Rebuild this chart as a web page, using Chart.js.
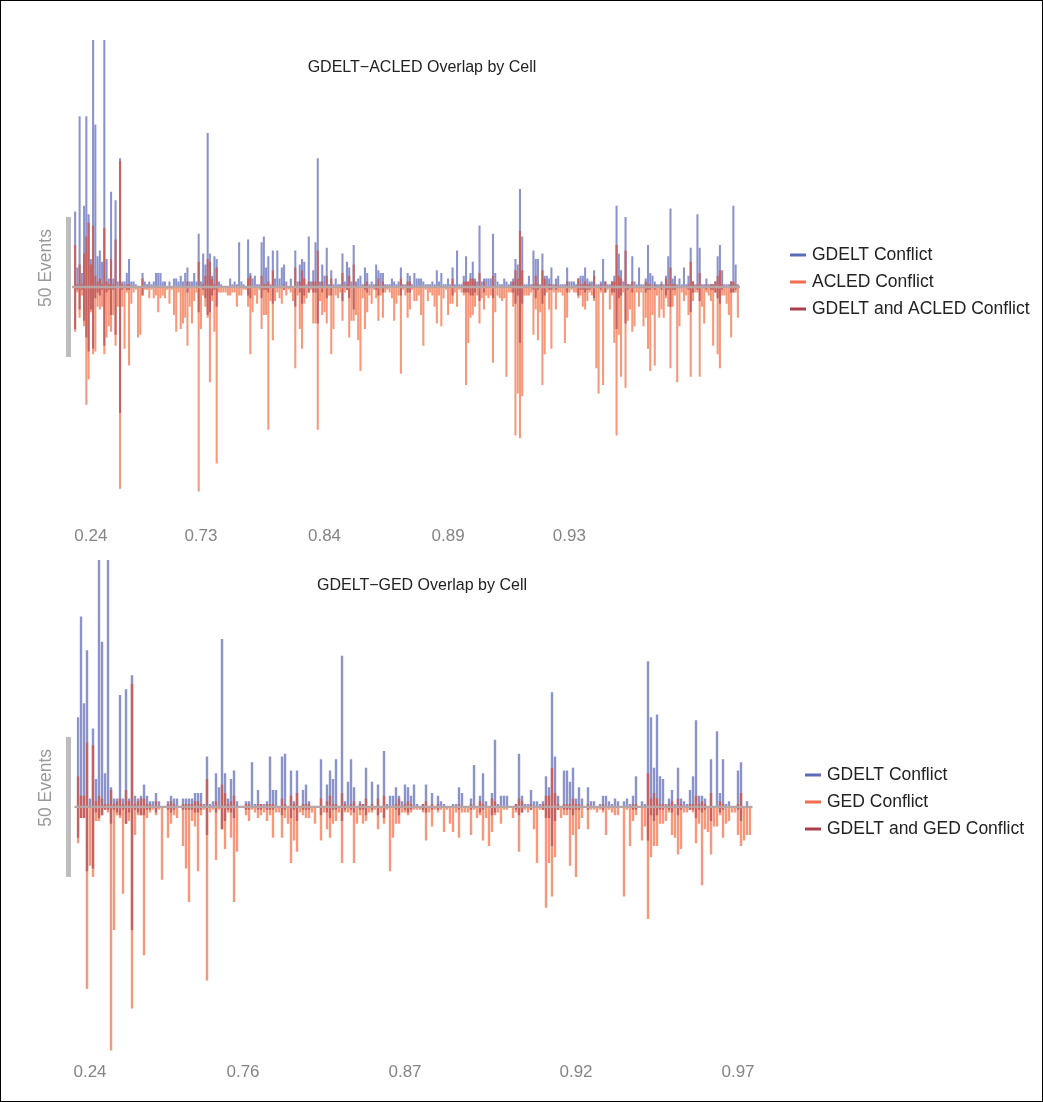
<!DOCTYPE html>
<html>
<head>
<meta charset="utf-8">
<script src="https://cdn.jsdelivr.net/npm/chart.js"></script>
<style>
	body { margin: 0; background: #fff; }
	#wrap { position: relative; width: 1043px; height: 1102px; }
	#frame { position: absolute; left: 0; top: 0; width: 1043px; height: 1102px; box-sizing: border-box; border: 1px solid #000; pointer-events: none; }
	canvas { position: absolute; left: 0; }
</style>
</head>
<body>
<div id="wrap">
	<canvas id="acled-chart" width="1043" height="550" style="top:0"></canvas>
	<canvas id="ged-chart" width="1043" height="552" style="top:550px"></canvas>
	<div id="frame"></div>
</div>
<script>
// GDELT vs ACLED, one bar per cell (sorted by overlap share)
var acledGdelt = [
	27, 7, 61, 5, 29, 61, 26, 10, 95, 58, 11, 13, 9, 95, 10, 3, 34, 3, 31, 2,
	46, 2, 2, 5, 10, 2, 2, 1, 0, 0, 5, 2, 1, 2, 1, 2, 5, 5, 5, 2,
	2, 0, 2, 0, 3, 3, 2, 4, 2, 5, 7, 2, 2, 5, 2, 19, 2, 12, 8, 55,
	12, 4, 11, 10, 2, 1, 0, 0, 0, 3, 1, 2, 1, 16, 2, 1, 0, 17, 5, 3,
	4, 1, 1, 16, 18, 7, 11,
	1, 13, 3, 13, 3, 7, 8, 2, 0, 3, 0, 13, 2, 8, 10, 9, 1, 18, 2, 6,
	16, 46, 2, 8, 4, 14, 1, 6, 1, 3, 1, 1, 12, 2, 9, 7, 2, 15, 2, 3,
	4, 1, 7, 5, 1, 2, 1, 8, 6, 5, 5, 1, 1, 1, 3, 2, 1, 2, 7, 1,
	1, 5, 4, 1, 5, 3, 3, 3, 2, 1, 1, 1, 2, 1, 6, 2, 5, 1, 1, 3,
	1, 7, 1, 13, 1, 1, 4, 11, 2, 5, 9, 3, 2, 22, 2, 3, 3, 3, 3, 19,
	5, 2, 1, 1, 3, 2,
	1, 2, 3, 10, 8, 35, 18, 1, 1, 4, 1, 13, 10, 10, 1, 12, 4, 4, 3, 7,
	1, 3, 4, 1, 1, 1, 7, 2, 2, 2, 1, 3, 4, 4, 7, 3, 2, 2, 6, 1,
	1, 2, 10, 2, 1, 1, 2, 4, 29, 12, 6, 2, 25, 1, 1, 11, 2, 1, 7, 1,
	1, 3, 15, 5, 4, 2, 1, 1, 2, 1, 4, 11, 28, 3, 4, 1, 3, 1, 7, 1,
	4, 14, 2, 1, 26, 14, 1, 1, 3, 1, 1, 1, 2, 11, 15, 6, 1, 1, 1, 2,
	29, 8, 1
];
var acledEvents = [
	16, 2, 11, 3, 14, 42, 33, 9, 24, 23, 7, 8, 7, 24, 18, 14, 16, 10, 21, 7,
	72, 7, 22, 2, 28, 6, 2, 1, 18, 17, 3, 1, 1, 4, 1, 4, 3, 9, 4, 3,
	4, 1, 6, 1, 10, 16, 2, 15, 13, 11, 21, 7, 13, 5, 2, 73, 15, 3, 7, 11,
	34, 5, 16, 63, 2, 2, 2, 2, 3, 3, 2, 2, 7, 3, 3, 1, 1, 7, 24, 9,
	3, 6, 1, 15, 10, 10, 51,
	5, 19, 5, 2, 4, 6, 1, 3, 1, 2, 5, 29, 3, 15, 22, 6, 4, 2, 1, 13,
	13, 51, 5, 10, 9, 13, 3, 24, 15, 3, 4, 2, 12, 2, 1, 18, 12, 12, 10, 19,
	30, 4, 15, 9, 3, 6, 1, 4, 12, 3, 11, 2, 1, 2, 4, 12, 6, 3, 31, 1,
	3, 11, 8, 1, 5, 5, 3, 10, 21, 1, 5, 2, 3, 7, 13, 3, 14, 4, 1, 10,
	6, 6, 2, 7, 1, 2, 3, 35, 20, 11, 10, 7, 3, 13, 4, 8, 3, 4, 3, 27,
	9, 3, 4, 5, 4, 32,
	2, 2, 7, 53, 38, 54, 39, 3, 3, 3, 2, 17, 8, 19, 9, 35, 24, 2, 8, 22,
	2, 8, 2, 2, 3, 20, 11, 2, 1, 2, 2, 4, 3, 7, 8, 5, 2, 3, 5, 29,
	38, 2, 35, 2, 1, 8, 3, 20, 53, 17, 32, 2, 36, 12, 8, 16, 14, 2, 7, 2,
	14, 11, 22, 30, 10, 28, 3, 11, 8, 11, 4, 7, 29, 7, 3, 34, 14, 2, 5, 3,
	10, 32, 5, 2, 2, 32, 7, 13, 2, 3, 5, 21, 2, 24, 29, 3, 3, 6, 10, 18,
	2, 2, 11
];
var acledBoth = [
	15, 1, 8, 1, 12, 18, 23, 8, 22, 4, 2, 3, 1, 21, 2, 1, 10, 1, 17, 0,
	45, 1, 0, 1, 1, 0, 0, 0, 0, 0, 3, 0, 0, 0, 0, 0, 0, 0, 0, 0,
	0, 0, 0, 0, 0, 0, 0, 0, 0, 0, 2, 0, 0, 0, 0, 9, 0, 1, 4, 10,
	9, 3, 1, 7, 0, 0, 0, 0, 0, 0, 0, 0, 0, 0, 0, 0, 0, 3, 4, 0,
	0, 0, 0, 4, 1, 1, 2,
	0, 6, 0, 0, 0, 0, 1, 0, 0, 0, 0, 7, 0, 2, 6, 3, 0, 2, 0, 2,
	2, 13, 0, 2, 0, 4, 0, 3, 0, 0, 0, 0, 5, 0, 1, 4, 0, 8, 0, 0,
	0, 0, 1, 2, 0, 0, 0, 1, 3, 0, 2, 0, 0, 0, 0, 0, 0, 0, 3, 0,
	0, 2, 2, 0, 0, 0, 0, 0, 0, 0, 0, 0, 0, 0, 0, 0, 0, 0, 0, 0,
	0, 3, 0, 0, 0, 0, 2, 2, 2, 3, 3, 2, 0, 5, 0, 2, 0, 0, 0, 4,
	0, 0, 0, 0, 0, 0,
	0, 0, 2, 6, 3, 20, 6, 0, 0, 0, 0, 1, 4, 1, 0, 6, 3, 0, 1, 1,
	0, 1, 0, 0, 0, 0, 2, 0, 0, 0, 0, 3, 1, 1, 2, 1, 1, 0, 4, 0,
	0, 1, 0, 2, 0, 0, 2, 2, 15, 4, 3, 0, 13, 1, 0, 2, 0, 0, 0, 0,
	0, 2, 1, 1, 0, 1, 0, 0, 1, 0, 3, 1, 7, 1, 1, 0, 0, 0, 0, 0,
	1, 9, 2, 0, 1, 5, 0, 0, 1, 0, 1, 1, 2, 4, 6, 1, 0, 0, 0, 2,
	2, 1, 0
];
var acledTickIndex = [7, 56, 111, 166, 220];
var acledTickText = ["0.24", "0.73", "0.84", "0.89", "0.93"];

// GDELT vs GED
var gedGdelt = [
	32, 68, 37, 56, 3, 28, 10, 95, 59, 12, 95, 7, 3, 3, 40, 3, 42, 3, 47, 4,
	3, 4, 8, 4, 2, 2, 5, 2, 0, 0, 2, 4, 3, 3, 0, 3, 3, 3, 3, 5,
	5, 5, 1, 18, 1, 2, 12, 7, 60, 12, 3, 10, 13, 2, 0, 0, 2, 2, 16, 1,
	6, 1, 1, 2, 18, 6, 6, 0, 18, 19, 0, 13, 2, 13, 0, 6, 8, 2, 0, 0,
	0, 17, 0, 8, 13, 10, 17, 0, 54, 2, 9, 17, 7, 0, 2, 1, 14, 0, 9, 0,
	8, 0, 20, 1, 4, 4, 7, 4, 2, 8, 7, 4, 8, 1, 0, 1, 8, 0, 5, 0,
	4, 2, 1, 0, 0, 1, 1, 7, 5, 0, 0, 3, 15, 0, 4, 12, 2, 0, 5, 24,
	1, 4, 4, 4, 0, 0, 1, 19, 4, 1, 1, 6, 2, 2, 1, 2, 11, 7, 41, 18,
	4, 0, 13, 13, 9, 14, 3, 7, 3, 0, 7, 2, 2, 0, 1, 4, 4, 2, 1, 3,
	2, 0, 2, 3, 1, 4, 11, 0, 2, 1, 52, 32, 14, 33, 11, 10, 1, 3, 6, 1,
	14, 3, 2, 1, 6, 11, 31, 4, 4, 3, 0, 17, 0, 27, 5, 17, 1, 2, 0, 0,
	13, 16, 0, 2, 0
];
var gedEvents = [
	13, 4, 4, 65, 21, 25, 5, 5, 3, 1, 2, 87, 44, 3, 4, 31, 6, 5, 72, 10,
	3, 3, 53, 4, 2, 1, 3, 1, 26, 0, 11, 6, 3, 4, 0, 14, 22, 34, 5, 7,
	23, 3, 1, 62, 2, 1, 19, 1, 8, 15, 2, 11, 34, 16, 0, 0, 3, 5, 1, 2,
	4, 3, 2, 5, 3, 11, 2, 2, 11, 4, 6, 20, 12, 16, 2, 3, 4, 4, 2, 6,
	0, 12, 2, 8, 11, 6, 5, 2, 20, 2, 2, 3, 20, 6, 3, 6, 5, 2, 2, 1,
	8, 2, 6, 1, 23, 11, 6, 6, 2, 2, 3, 2, 1, 1, 1, 2, 12, 2, 7, 1,
	2, 1, 9, 1, 6, 9, 2, 11, 2, 2, 2, 10, 1, 4, 3, 12, 4, 14, 9, 3,
	2, 6, 1, 1, 0, 4, 2, 16, 2, 1, 2, 1, 8, 20, 1, 1, 36, 20, 32, 18,
	1, 4, 3, 3, 21, 10, 25, 8, 4, 0, 8, 1, 1, 2, 1, 2, 10, 1, 2, 3,
	3, 0, 32, 1, 14, 5, 3, 0, 12, 7, 40, 18, 14, 14, 6, 6, 5, 2, 10, 11,
	17, 15, 2, 2, 1, 2, 13, 6, 28, 8, 9, 17, 7, 7, 3, 11, 6, 5, 2, 2,
	10, 14, 12, 10, 10
];
var gedBoth = [
	11, 4, 4, 23, 0, 22, 2, 4, 3, 1, 1, 6, 1, 2, 3, 1, 6, 2, 44, 1,
	2, 3, 3, 1, 1, 0, 2, 0, 0, 0, 1, 2, 1, 0, 0, 1, 1, 1, 1, 2,
	2, 1, 0, 10, 0, 0, 2, 0, 8, 5, 1, 2, 4, 0, 0, 0, 1, 1, 0, 0,
	1, 1, 0, 1, 1, 1, 0, 0, 3, 1, 0, 4, 1, 5, 0, 1, 1, 1, 0, 0,
	0, 3, 0, 2, 4, 1, 1, 0, 5, 1, 0, 1, 2, 0, 1, 1, 3, 0, 1, 0,
	3, 0, 4, 0, 0, 0, 1, 3, 0, 1, 2, 1, 0, 0, 0, 1, 2, 0, 1, 0,
	1, 0, 0, 0, 0, 0, 0, 1, 0, 0, 0, 1, 0, 0, 2, 1, 0, 0, 3, 2,
	0, 0, 0, 0, 0, 0, 1, 3, 2, 0, 0, 1, 0, 0, 0, 1, 4, 4, 14, 5,
	1, 0, 1, 1, 1, 3, 1, 1, 0, 0, 1, 0, 0, 0, 0, 1, 0, 0, 0, 0,
	0, 0, 0, 0, 0, 1, 1, 0, 0, 0, 12, 3, 5, 3, 1, 1, 0, 1, 2, 0,
	3, 1, 0, 0, 1, 1, 4, 1, 2, 1, 0, 5, 0, 0, 2, 1, 0, 0, 0, 0,
	1, 5, 0, 0, 0
];
var gedTickIndex = [4, 55, 109, 166, 220];
var gedTickText = ["0.24", "0.76", "0.87", "0.92", "0.97"];

var scaleBar = 50;

var BLUE = "#8b93cc", ORANGE = "#f7987a", RED = "#c46262";
var LEGEND_COLORS = ["#5d6cb8", "#f26c4f", "#a8404e"];
var FONT = "'Liberation Sans', Arial, sans-serif";

// draws zero line, scale bar, title and legend on top of the bars
var decor = {
	id: "decor",
	afterDatasetsDraw: function (chart, args, o) {
		var ctx = chart.ctx;
		var area = chart.chartArea;
		var y = chart.scales.y;
		var y0 = y.getPixelForValue(0);
		ctx.save();
		ctx.strokeStyle = "#b8a6a6";
		ctx.lineWidth = 2.3;
		ctx.beginPath();
		ctx.moveTo(area.left - 2, y0);
		ctx.lineTo(area.right + 1, y0);
		ctx.stroke();

		var yt = y.getPixelForValue(scaleBar / 2);
		var yb = y.getPixelForValue(-scaleBar / 2);
		ctx.fillStyle = "#bdbdbd";
		ctx.fillRect(66, yt, 5, yb - yt);

		ctx.fillStyle = "#222";
		ctx.font = "16px " + FONT;
		ctx.textAlign = "center";
		ctx.textBaseline = "middle";
		ctx.fillText(o.title, 422, o.titleY);

		ctx.textAlign = "left";
		ctx.font = "17.5px " + FONT;
		for (var i = 0; i < 3; i++) {
			var ly = o.legendY + i * 27;
			ctx.fillStyle = LEGEND_COLORS[i];
			ctx.fillRect(o.legendX, ly - 1.5, 16, 3);
			ctx.fillStyle = "#222";
			ctx.fillText(o.names[i], o.legendX + 22, ly);
		}

		ctx.translate(46, y0 - 19);
		ctx.rotate(-Math.PI / 2);
		ctx.fillStyle = "#999";
		ctx.font = "17.5px " + FONT;
		ctx.textAlign = "center";
		ctx.fillText(scaleBar + " Events", 0, 0);
		ctx.restore();
	},
};

function overlapChart(id, gdelt, other, both, tickIndex, tickText, cfg) {
	var labels = gdelt.map(function (v, i) {
		var t = tickIndex.indexOf(i);
		return t >= 0 ? tickText[t] : "";
	});
	return new Chart(document.getElementById(id), {
		type: "bar",
		data: {
			labels: labels,
			datasets: [
				{ label: cfg.names[2], data: both.map((v) => [-v, v]), backgroundColor: RED, order: 0 },
				{ label: cfg.names[0], data: gdelt, backgroundColor: BLUE, order: 1 },
				{ label: cfg.names[1], data: other.map((v) => -v), backgroundColor: ORANGE, order: 1 },
			],
		},
		options: {
			responsive: false,
			animation: false,
			layout: { padding: cfg.padding },
			datasets: { bar: { grouped: false, barPercentage: cfg.barPct, categoryPercentage: 1 } },
			plugins: {
				legend: { display: false },
				tooltip: { enabled: false },
				decor: cfg,
			},
			scales: {
				x: {
					grid: { display: false, drawTicks: false },
					border: { display: false },
					afterFit: function (scale) {
						scale.height = cfg.axisH;
					},
					ticks: {
						autoSkip: false,
						maxRotation: 0,
						padding: cfg.tickPad,
						color: "#858585",
						font: { family: FONT, size: 17 },
					},
				},
				y: { display: false, min: cfg.yMin, max: cfg.yMax },
			},
		},
		plugins: [decor],
	});
}

overlapChart("acled-chart", acledGdelt, acledEvents, acledBoth, acledTickIndex, acledTickText, {
	title: "GDELT\u2212ACLED Overlap by Cell",
	titleY: 68,
	names: ["GDELT Conflict", "ACLED Conflict", "GDELT and ACLED Conflict"],
	legendX: 790,
	legendY: 255,
	padding: { left: 74, right: 304, top: 40, bottom: 0 },
	axisH: 39.2,
	tickPad: 15,
	yMin: -79.9,
	yMax: 88.2,
	barPct: 0.92,
});

overlapChart("ged-chart", gedGdelt, gedEvents, gedBoth, gedTickIndex, gedTickText, {
	title: "GDELT\u2212GED Overlap by Cell",
	titleY: 36,
	names: ["GDELT Conflict", "GED Conflict", "GDELT and GED Conflict"],
	legendX: 805,
	legendY: 225,
	padding: { left: 76.5, right: 291.5, top: 10, bottom: 0 },
	axisH: 47.6,
	tickPad: 8,
	yMin: -88.4,
	yMax: 88.2,
	barPct: 0.8,
});
</script>
</body>
</html>
